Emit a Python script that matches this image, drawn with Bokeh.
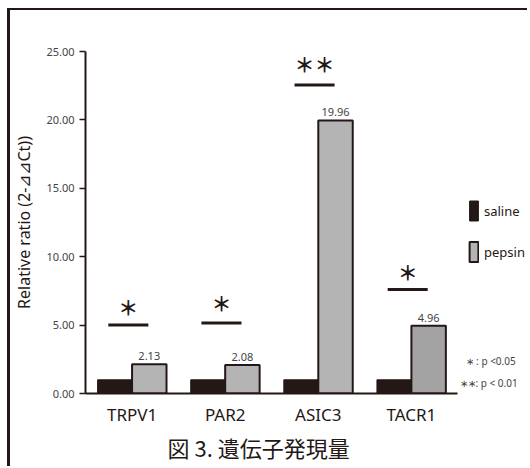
from bokeh.plotting import figure
from bokeh.models import (ColumnDataSource, Range1d, FixedTicker,
                          NumeralTickFormatter, Legend, LegendItem, Label, Title)
from bokeh.transform import dodge
from bokeh.core.properties import value
from bokeh.embed import file_html
from bokeh.resources import INLINE

categories = ["TRPV1", "PAR2", "ASIC3", "TACR1"]
saline = [1.0, 1.0, 1.0, 1.0]
pepsin = [2.13, 2.08, 19.96, 4.96]
pepsin_labels = ["2.13", "2.08", "19.96", "4.96"]
sig_marks = ["＊", "＊", "＊＊", "＊"]
sig_line_y = [5.0, 5.15, 22.55, 7.6]
sig_mark_y = [6.3, 6.55, 24.05, 8.85]
y_ticks = [0, 5, 10, 15, 20, 25]
footnotes = ["∗ : p <0.05", "∗∗: p < 0.01"]

DARK = "#231815"
pepsin_colors = ["#b4b4b4", "#b4b4b4", "#b4b4b4", "#a3a3a3"]

xs = [i + 0.5 for i in range(len(categories))]
src = ColumnDataSource(dict(x=xs, cat=categories, saline=saline, pepsin=pepsin,
                            lab=pepsin_labels, pcol=pepsin_colors,
                            sig=sig_marks, sly=sig_line_y, smy=sig_mark_y))

p = figure(x_range=Range1d(0, 4.779), y_range=Range1d(0, 25),
           width=520, height=458, output_backend="svg", toolbar_location=None,
           min_border_left=74, min_border_right=0, min_border_top=41, min_border_bottom=75)
p.styles = {"margin-left": "7px", "margin-top": "8px",
            "border-left": "3px solid #231815", "border-top": "2px solid #231815"}
p.outline_line_color = None
p.xgrid.grid_line_color = None
p.ygrid.grid_line_color = None

W = 0.37
r_sal = p.vbar(x=dodge("x", -W / 2), top="saline", width=W, source=src,
               fill_color=DARK, line_color=DARK, line_width=1)
r_pep = p.vbar(x=dodge("x", W / 2), top="pepsin", width=W, source=src,
               fill_color="pcol", line_color=DARK, line_width=2)

p.text(x=dodge("x", W / 2), y="pepsin", text="lab", source=src,
       text_align="center", text_baseline="bottom", y_offset=-4,
       text_font=value("Noto Sans"), text_font_size="11px", text_color="#444444")

p.segment(x0=dodge("x", -0.255), y0="sly", x1=dodge("x", 0.175), y1="sly", source=src,
          line_color=DARK, line_width=3)
p.text(x=dodge("x", -0.04), y="smy", text="sig", source=src,
       text_align="center", text_baseline="middle",
       text_font=value("Noto Sans CJK JP"), text_font_size="20px",
       text_font_style="bold", text_color=DARK)

# y axis
p.yaxis.ticker = FixedTicker(ticks=y_ticks)
p.yaxis.formatter = NumeralTickFormatter(format="0.00")
p.yaxis.minor_tick_line_color = None
p.yaxis.major_tick_in = 0
p.yaxis.major_tick_out = 6
p.yaxis.major_label_text_font = "Noto Sans"
p.yaxis.major_label_text_font_size = "11px"
p.yaxis.major_label_text_color = "#444444"
p.yaxis.axis_label = "Relative ratio (2-⊿⊿Ct))"
p.yaxis.axis_label_text_font = "Noto Sans"
p.yaxis.axis_label_text_font_style = "normal"
p.yaxis.axis_label_text_font_size = "16px"
p.yaxis.axis_label_text_color = DARK
p.yaxis.axis_label_standoff = 8

for ax in (p.xaxis, p.yaxis):
    ax.axis_line_color = DARK
    ax.axis_line_width = 2
    ax.major_tick_line_color = DARK
    ax.major_tick_line_width = 1.5

# x axis (categories)
p.xaxis.ticker = FixedTicker(ticks=xs)
p.xaxis.major_label_overrides = {x: c for x, c in zip(xs, categories)}
p.xaxis.bounds = (-0.03, 3.99)
p.xaxis.major_tick_line_color = None
p.xaxis.minor_tick_line_color = None
p.xaxis.major_label_text_font = "Noto Sans"
p.xaxis.major_label_text_font_size = "17px"
p.xaxis.major_label_text_color = DARK
p.xaxis.major_label_standoff = 3

title = Title(text="図 3. 遺伝子発現量", align="left", text_font="Noto Sans CJK JP",
              text_font_size="22px", text_font_style="normal", text_color=DARK,
              offset=82, standoff=0)
p.add_layout(title, "below")

legend = Legend(items=[LegendItem(label="saline", renderers=[r_sal], index=0),
                       LegendItem(label="pepsin", renderers=[r_pep], index=0)],
                location=(383, 129), orientation="vertical",
                glyph_width=11, glyph_height=25, spacing=16, label_standoff=5,
                padding=0, margin=0, border_line_alpha=0, background_fill_alpha=0,
                label_text_font="Noto Sans", label_text_font_size="13px",
                label_text_color=DARK)
p.add_layout(legend, "center")

p.add_layout(Label(x=380, y=33, x_units="screen", y_units="screen", text=footnotes[0],
                   text_font="Noto Sans", text_font_size="10px",
                   text_color="#444444", text_baseline="middle"))
p.add_layout(Label(x=374, y=11, x_units="screen", y_units="screen", text=footnotes[1],
                   text_font="Noto Sans", text_font_size="10px",
                   text_color="#444444", text_baseline="middle"))

open("out.html", "w").write(file_html(p, INLINE))
